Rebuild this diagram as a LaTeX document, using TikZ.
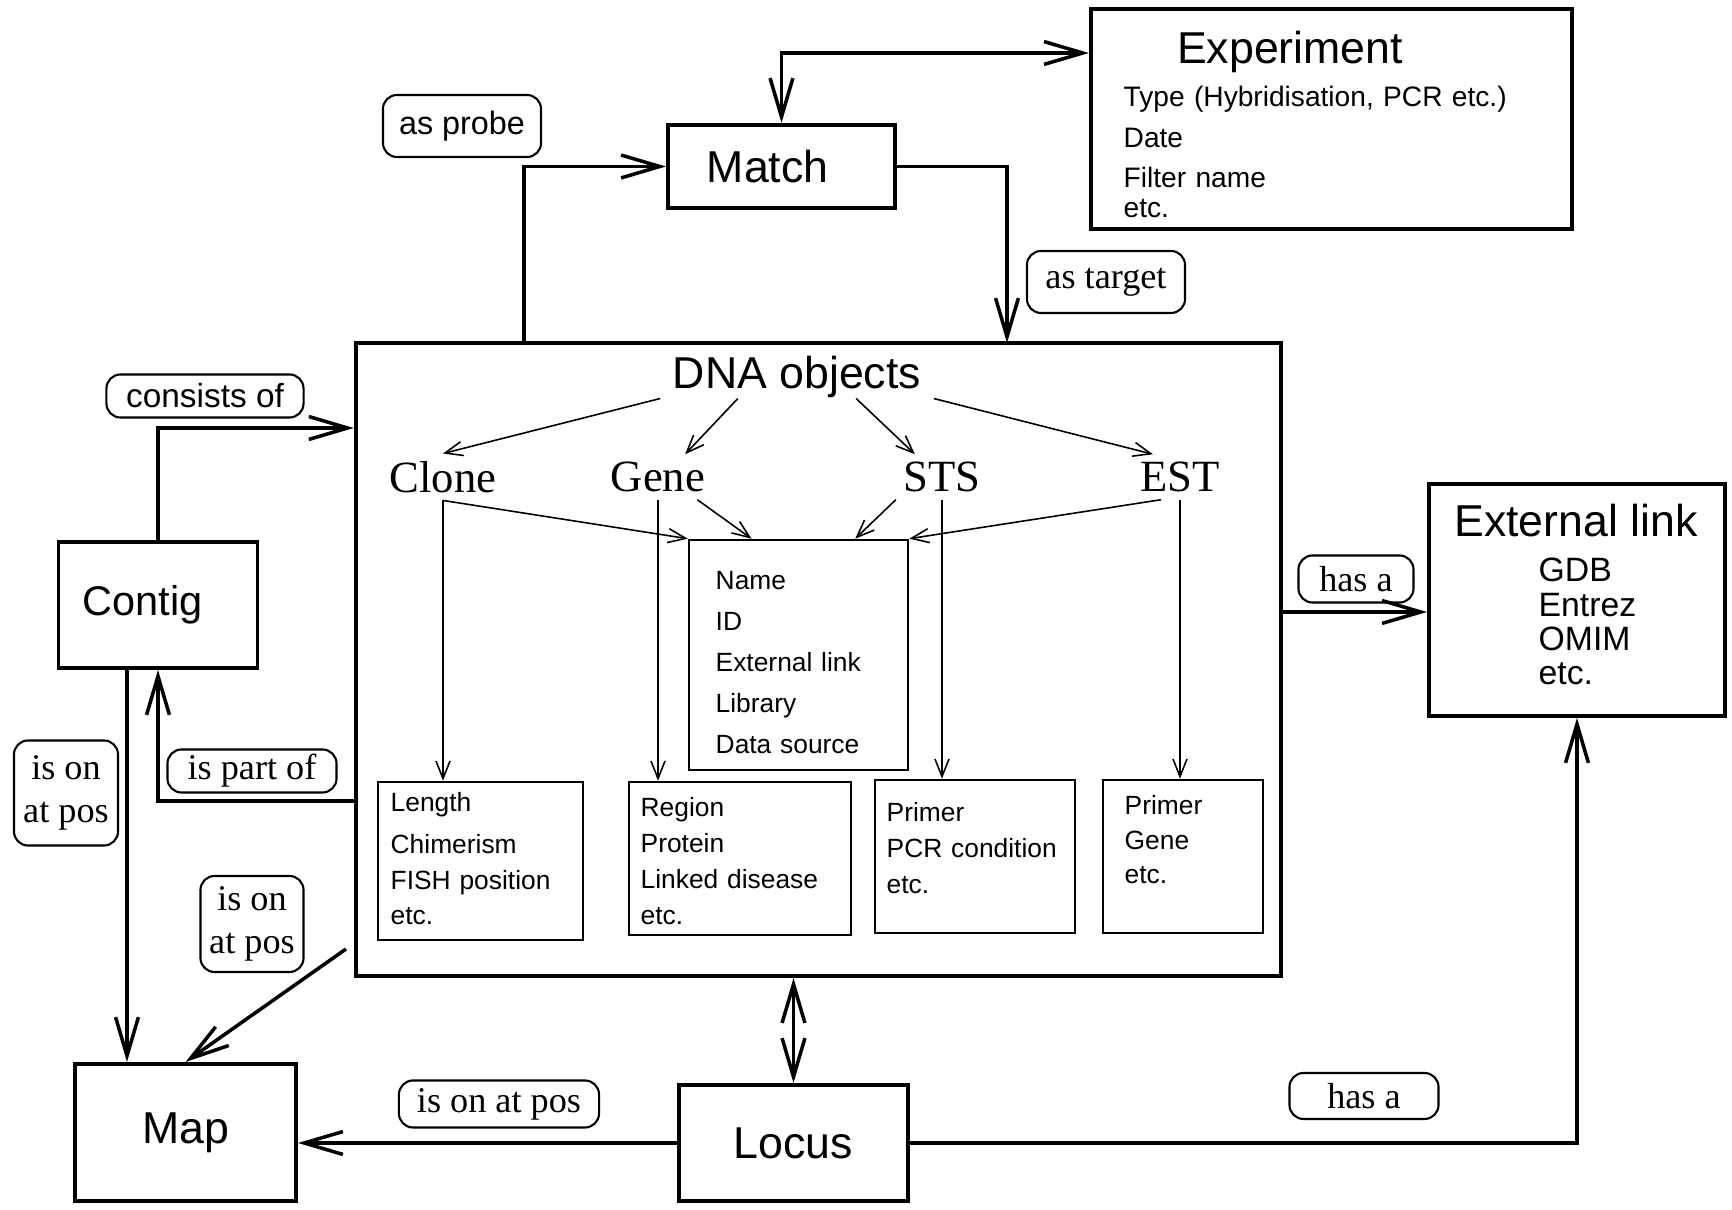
\documentclass[tikz,border=0pt]{standalone}
\usepackage{fontspec}
\setmainfont{Liberation Sans}
\newfontfamily\timesFont{Liberation Serif}
\usepackage{tikz}
\usetikzlibrary{arrows.meta, positioning}

\begin{document}
\begin{tikzpicture}[x=0.01cm, y=-0.01cm,
  >={Straight Barb[length=11pt, width=6.5pt]},
  bigBox/.style={draw, line width=1.1pt, inner sep=0pt},
  smallBox/.style={draw, line width=0.7pt, inner sep=0pt},
  tag/.style={draw, rounded corners=4pt, line width=0.6pt, inner sep=0pt, align=center, font=\timesFont\fontsize{10.3}{12.3}\selectfont},
  sansTag/.style={tag, font=\fontsize{9.2}{11}\selectfont},
  bigLink/.style={line width=1pt, ->},
  thinLink/.style={line width=0.45pt, -{Straight Barb[length=5pt, width=4pt]}},
  title/.style={font=\fontsize{12.7}{15}\selectfont},
  kind/.style={font=\timesFont\fontsize{12.7}{15}\selectfont, inner sep=2pt},
  items/.style={anchor=base west, align=left, inner sep=0pt, font=\fontsize{7.5}{11.6}\selectfont}
]
	\useasboundingbox (0,0) rectangle (1732,1210);

%------------- Experiment
	\node[bigBox, minimum width=4.81cm, minimum height=2.20cm] (Exp) at (1331.5, 119) {};
	\node[title, anchor=base] (Exp_Title) at (1290, 64) {Experiment};
	\node[items, font=\fontsize{8}{11.5}\selectfont, text width=4.2cm] (Exp_Items) at (1123, 107) {Type (Hybridisation, PCR etc.)\\Date\\Filter name\\[-3pt]etc.};

%------------- Match
	\node[bigBox, title, text width=1.49cm, align=left, minimum width=2.27cm, minimum height=0.83cm] (Match) at (781.5, 166.5) {Match};

	\node[sansTag, minimum width=1.58cm, minimum height=0.62cm] (T_Probe) at (462, 126) {as probe};
	\node[tag, minimum width=1.58cm, minimum height=0.62cm] (T_Target) at (1106, 282) {as target};

%------------- DNA objects
	\node[bigBox, minimum width=9.25cm, minimum height=6.33cm] (DNA) at (818.5, 659.5) {};
	\node[title, inner xsep=0.12cm, inner ysep=0pt] (DNA_Title) at (797, 377) {DNA objects};

	\node[kind] (DNA_Clone) at (443, 477) {Clone};
	\node[kind] (DNA_Gene) at (658, 477) {Gene};
	\node[kind] (DNA_STS) at (942, 477) {STS};
	\node[kind] (DNA_EST) at (1180, 477) {EST};

	\node[smallBox, minimum width=2.19cm, minimum height=2.30cm] (DNA_Common) at (798.5, 655) {};
	\node[items, text width=2cm] (DNA_Common_Items) at (715, 590) {Name\\ID\\External link\\Library\\Data source};

	\node[smallBox, minimum width=2.05cm, minimum height=1.58cm] (Clone_Attr) at (480.5, 861) {};
	\node[items, font=\fontsize{7.5}{10.2}\selectfont, text width=1.9cm] (Clone_Attr_Items) at (390, 812) {Length\\[1.5pt]Chimerism\\FISH position\\etc.};

	\node[smallBox, minimum width=2.22cm, minimum height=1.53cm] (Gene_Attr) at (740, 858.5) {};
	\node[items, font=\fontsize{7.5}{10.2}\selectfont, text width=2cm] (Gene_Attr_Items) at (640, 817) {Region\\Protein\\Linked disease\\etc.};

	\node[smallBox, minimum width=2.00cm, minimum height=1.53cm] (STS_Attr) at (975, 856.5) {};
	\node[items, font=\fontsize{7.5}{10.1}\selectfont, text width=1.8cm] (STS_Attr_Items) at (886, 822) {Primer\\PCR condition\\etc.};

	\node[smallBox, minimum width=1.60cm, minimum height=1.53cm] (EST_Attr) at (1183, 856.5) {};
	\node[items, font=\fontsize{7.5}{9.8}\selectfont, text width=1.3cm] (EST_Attr_Items) at (1124, 815) {Primer\\Gene\\etc.};

	\draw[thinLink] (DNA_Title.south west) -- (DNA_Clone.north);
	\draw[thinLink] (DNA_Title.200) -- (DNA_Gene.40);
	\draw[thinLink] (DNA_Title.340) -- (DNA_STS.140);
	\draw[thinLink] (DNA_Title.south east) -- (DNA_EST.140);

	\draw[thinLink] (DNA_Clone.south) -- (DNA_Common.north west);
	\draw[thinLink] (DNA_Gene.-30) -- (DNA_Common.112);
	\draw[thinLink] (DNA_STS.south west) -- (DNA_Common.64);
	\draw[thinLink] (DNA_EST.230) -- (DNA_Common.north east);

	\draw[thinLink] (DNA_Clone.south) -- (DNA_Clone.south |- Clone_Attr.north);
	\draw[thinLink] (DNA_Gene.south) -- (DNA_Gene.south |- Gene_Attr.north);
	\draw[thinLink] (DNA_STS.south) -- (DNA_STS.south |- STS_Attr.north);
	\draw[thinLink] (DNA_EST.south) -- (DNA_EST.south |- EST_Attr.north);

%------------- Contig, Map, Locus
	\node[bigBox, title, font=\fontsize{11.8}{14}\selectfont, text width=1.51cm, align=left, minimum width=1.99cm, minimum height=1.26cm] (Contig) at (158, 605) {Contig};
	\node[bigBox, title, minimum width=2.21cm, minimum height=1.37cm] (Map) at (185.5, 1132.5) {Map};
	\node[bigBox, title, minimum width=2.29cm, minimum height=1.16cm] (Locus) at (793.5, 1143) {Locus};

	\node[sansTag, font=\fontsize{9.5}{11}\selectfont, minimum width=1.97cm, minimum height=0.43cm] (T_Consists) at (205, 396) {consists of};
	\node[tag, minimum width=1.69cm, minimum height=0.43cm] (T_PartOf) at (252, 771) {is part of};
	\node[tag, minimum width=1.04cm, minimum height=1.05cm] (T_ContigMap) at (66, 793) {is on\\at pos};
	\node[tag, minimum width=1.03cm, minimum height=0.96cm] (T_DNAMap) at (252, 924) {is on\\at pos};
	\node[tag, minimum width=2.00cm, minimum height=0.47cm] (T_LocusMap) at (499, 1104) {is on at pos};

%------------- External link
	\node[bigBox, minimum width=2.96cm, minimum height=2.32cm] (Ext) at (1577, 600) {};
	\node[title, anchor=base] (Ext_Title) at (1576, 537) {External link};
	\node[items, font=\fontsize{9.6}{9.7}\selectfont, text width=1.5cm] (Ext_Items) at (1538, 582) {GDB\\Entrez\\OMIM\\etc.};

	\node[tag, minimum width=1.15cm, minimum height=0.47cm] (T_DNAExt) at (1356, 579) {has a};
	\node[tag, minimum width=1.49cm, minimum height=0.46cm] (T_LocusExt) at (1364, 1096) {has a};

%------------- Links
	\coordinate (Match_Exp) at (782, 53);
	\coordinate (Probe_Foot) at (524, 343);
	\coordinate (Target_Foot) at (1007, 343);
	\coordinate (Consists_Level) at (356, 428);
	\coordinate (PartOf_Start) at (356, 801);
	\coordinate (ContigMap_X) at (127, 0);
	\coordinate (DNAMap_Start) at (346, 949);
	\coordinate (DNAExt_Start) at (1281, 612);

	\draw[bigLink, <->] (Match.north) |- (Exp.west |- Match_Exp);
	\draw[bigLink] (Probe_Foot) |- (Match.west);
	\draw[bigLink] (Match.east) -| (Target_Foot);
	\draw[bigLink] (Contig.north) |- (DNA.west |- Consists_Level);
	\draw[bigLink] (PartOf_Start) -| (Contig.south);
	\draw[bigLink] (Contig.south -| ContigMap_X) -- (Map.north -| ContigMap_X);
	\draw[bigLink] (DNAMap_Start) -- (Map.north);
	\draw[bigLink, <->] (Locus.north) -- (Locus.north |- DNA.south);
	\draw[bigLink] (Locus.west) -- (Locus.west -| Map.east);
	\draw[bigLink] (Locus.east) -| (Ext.south);
	\draw[bigLink] (DNAExt_Start) -- (DNAExt_Start -| Ext.west);

\end{tikzpicture}
\end{document}
